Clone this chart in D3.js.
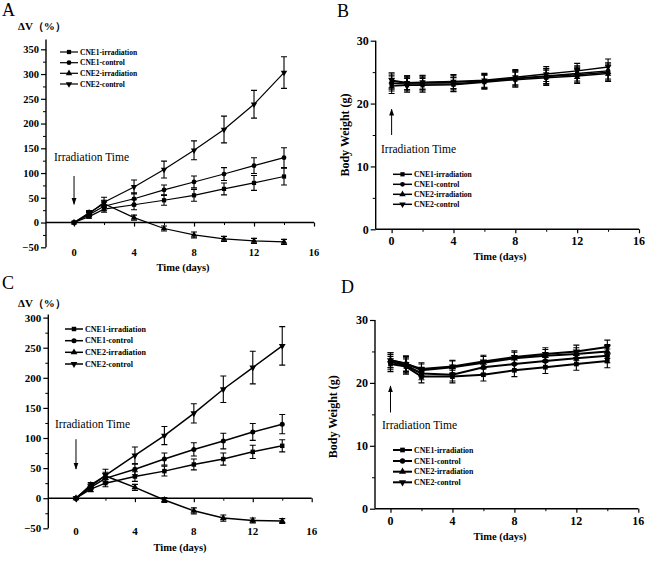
<!DOCTYPE html>
<html><head><meta charset="utf-8">
<script src="https://cdn.jsdelivr.net/npm/d3@7"></script>
<style>body{margin:0;background:#fff}svg{display:block}</style>
</head><body>
<svg id="chart" width="650" height="561"></svg>
<script>
// ---------- DATA ----------
const days = [0, 1, 2, 4, 6, 8, 10, 12, 14];
const seriesNames = ["CNE1-irradiation", "CNE1-control", "CNE2-irradiation", "CNE2-control"];
const xTickLabels = [0, 4, 8, 12, 16];
const yTicksA = [-50, 0, 50, 100, 150, 200, 250, 300, 350];
const yTicksC = [-50, 0, 50, 100, 150, 200, 250, 300];
const yTicksW = [0, 10, 20, 30];

// Panel A: tumour volume change (%)
const volA_cne1Irr  = [0, 12, 27, 36, 45, 55, 68, 80, 93];
const volA_cne1Ctrl = [0, 16, 33, 48, 66, 82, 98, 115, 131];
const volA_cne2Irr  = [0, 20, 38, 10, -12, -25, -33, -37, -39];
const volA_cne2Ctrl = [0, 18, 41, 72, 107, 146, 188, 239, 303];
const errA_cne1Irr  = [0, 3, 6, 10, 10, 12, 12, 15, 17];
const errA_cne1Ctrl = [0, 4, 8, 12, 10, 12, 13, 16, 20];
const errA_cne2Irr  = [0, 4, 7, 5, 5, 6, 5, 5, 5];
const errA_cne2Ctrl = [0, 4, 10, 14, 17, 19, 27, 28, 32];

// Panel B: body weight (g)
const wtB_cne1Irr  = [22.8, 22.9, 22.9, 23.0, 23.4, 23.8, 24.1, 24.4, 24.8];
const wtB_cne1Ctrl = [23.2, 23.1, 23.1, 23.1, 23.5, 24.0, 24.4, 24.8, 25.2];
const wtB_cne2Irr  = [23.5, 23.3, 23.3, 23.4, 23.6, 24.0, 24.3, 24.6, 25.0];
const wtB_cne2Ctrl = [23.7, 23.3, 23.4, 23.5, 23.7, 24.2, 24.7, 25.2, 25.8];
const errB = [1.2, 1.1, 1.1, 1.1, 1.1, 1.2, 1.2, 1.2, 1.3];

// Panel C: tumour volume change (%)
const volC_cne1Irr  = [0, 15, 25, 36, 45, 56, 65, 77, 87];
const volC_cne1Ctrl = [0, 18, 33, 48, 65, 81, 95, 110, 123];
const volC_cne2Irr  = [0, 22, 37, 18, -3, -21, -33, -37, -38];
const volC_cne2Ctrl = [0, 20, 38, 71, 104, 141, 181, 217, 253];
const errC_cne1Irr  = [0, 4, 6, 8, 8, 9, 10, 11, 10];
const errC_cne1Ctrl = [0, 4, 8, 9, 10, 11, 13, 14, 16];
const errC_cne2Irr  = [0, 4, 6, 5, 4, 5, 5, 4, 4];
const errC_cne2Ctrl = [0, 4, 10, 14, 15, 16, 22, 27, 32];

// Panel D: body weight (g)
const wtD_cne1Irr  = [23.0, 22.6, 21.0, 21.0, 21.3, 22.0, 22.5, 23.0, 23.5];
const wtD_cne1Ctrl = [23.3, 22.8, 21.5, 21.3, 22.5, 23.0, 23.5, 23.9, 24.3];
const wtD_cne2Irr  = [23.6, 23.1, 22.0, 22.5, 23.2, 23.9, 24.3, 24.6, 25.0];
const wtD_cne2Ctrl = [23.6, 23.0, 22.2, 22.6, 23.4, 24.1, 24.6, 25.0, 25.7];
const errD = [1.2, 1.2, 1.0, 1.0, 1.0, 1.0, 1.0, 1.0, 1.1];

// ---------- DRAW ----------
const svg = d3.select("#chart");
const FONT = "'Liberation Serif','Times New Roman',serif";
const symbols = [d3.symbolSquare, d3.symbolCircle, d3.symbolTriangle, d3.symbolTriangle];
const symRot = [0, 0, 0, 180];

const panels = [
  { letter: "A", lx: 2, ly: 16, vals: [volA_cne1Irr, volA_cne1Ctrl, volA_cne2Irr, volA_cne2Ctrl],
    errs: [errA_cne1Irr, errA_cne1Ctrl, errA_cne2Irr, errA_cne2Ctrl],
    xd: [-1.87, 16], xr: [46, 314], yd: [-50, 370], yr: [247.3, 39.4], yTicks: yTicksA, minorY: 25,
    xAxisVal: 0, xLabY: 256, tickFs: 10.5, titleY: 271, titleX: 183, lw: 1.2, msz: 18,
    yTitle: "ΔV（%）", yTitleX: 18, yTitleY: 30, rot: false,
    irr: { tx: 54, ty: 161, a0: 94, a1: 37, up: false },
    leg: { x0: 60, x1: 78, tx: 80, rows: [52, 62.7, 73.3, 84], fs: 7.5 } },
  { letter: "B", lx: 337, ly: 17, vals: [wtB_cne1Irr, wtB_cne1Ctrl, wtB_cne2Irr, wtB_cne2Ctrl],
    errs: [errB, errB, errB, errB],
    xd: [-1.03, 16], xr: [375.7, 639], yd: [0, 30], yr: [229.3, 40.7], yTicks: yTicksW, minorY: 5,
    xAxisVal: 0, xLabY: 245, tickFs: 12, titleY: 260, titleX: 500, lw: 1.5, msz: 18,
    yTitle: "Body Weight (g)", yTitleX: 345, yTitleY: 135, rot: true,
    irr: { tx: 381, ty: 153, a0: 15, a1: 19.1, up: true },
    leg: { x0: 393, x1: 412, tx: 414, rows: [174.3, 184.3, 194.3, 204.3], fs: 7.6 } },
  { letter: "C", lx: 2, ly: 289, vals: [volC_cne1Irr, volC_cne1Ctrl, volC_cne2Irr, volC_cne2Ctrl],
    errs: [errC_cne1Irr, errC_cne1Ctrl, errC_cne2Irr, errC_cne2Ctrl],
    xd: [-1.88, 16], xr: [48.3, 311.7], yd: [-50, 305], yr: [528.3, 314.6], yTicks: yTicksC, minorY: 25,
    xAxisVal: 0, xLabY: 534.5, tickFs: 11, titleY: 550.5, titleX: 180, lw: 1.5, msz: 20,
    yTitle: "ΔV（%）", yTitleX: 18, yTitleY: 307, rot: false,
    irr: { tx: 55, ty: 427.5, a0: 98, a1: 48.5, up: false },
    leg: { x0: 65, x1: 83, tx: 85, rows: [329, 340.7, 352.3, 364], fs: 8 } },
  { letter: "D", lx: 341, ly: 293, vals: [wtD_cne1Irr, wtD_cne1Ctrl, wtD_cne2Irr, wtD_cne2Ctrl],
    errs: [errD, errD, errD, errD],
    xd: [-1.0, 16], xr: [375, 638.3], yd: [0, 30], yr: [508.7, 320], yTicks: yTicksW, minorY: 5,
    xAxisVal: 0, xLabY: 525, tickFs: 12, titleY: 540, titleX: 500, lw: 2, msz: 22,
    yTitle: "Body Weight (g)", yTitleX: 333, yTitleY: 416.7, rot: true,
    irr: { tx: 382, ty: 429, a0: 15.3, a1: 19.5, up: true },
    leg: { x0: 393, x1: 412, tx: 414, rows: [450, 461, 471.7, 482.3], fs: 7.8 } }
];

svg.append("defs").append("marker").attr("id", "ah").attr("viewBox", "0 0 10 10")
  .attr("refX", 9).attr("refY", 5).attr("markerWidth", 7).attr("markerHeight", 7)
  .attr("markerUnits", "userSpaceOnUse").attr("orient", "auto")
  .append("path").attr("d", "M0,1.5 L10,5 L0,8.5 Z").attr("fill", "#000");

panels.forEach(p => {
  const g = svg.append("g");
  const x = d3.scaleLinear().domain(p.xd).range(p.xr);
  const y = d3.scaleLinear().domain(p.yd).range(p.yr);
  const y0 = y(p.xAxisVal);

  // panel letter
  g.append("text").attr("x", p.lx).attr("y", p.ly).attr("font-family", FONT)
    .attr("font-size", 18).text(p.letter);

  // y axis
  const yMinor = d3.range(p.yd[0], p.yd[1] + 0.001, p.minorY).filter(v => !p.yTicks.includes(v));
  const yAx = g.append("g").attr("transform", `translate(${p.xr[0]},0)`)
    .call(d3.axisLeft(y).tickValues(p.yTicks).tickSize(5).tickPadding(2).tickFormat(d3.format("d")));
  yAx.select(".domain").attr("d", `M0,${p.yr[0]}V${p.yr[1]}`).attr("stroke-width", 1.4);
  yAx.selectAll(".tick line").attr("stroke-width", 1.2);
  yAx.selectAll("text").attr("font-family", FONT).attr("font-weight", "bold").attr("font-size", p.tickFs);
  g.append("g").attr("transform", `translate(${p.xr[0]},0)`)
    .call(d3.axisLeft(y).tickValues(yMinor).tickSize(3).tickFormat(""))
    .call(s => s.select(".domain").remove());

  // x axis (line at y=0, labels below plot)
  const xAx = g.append("g").attr("transform", `translate(0,${y0})`)
    .call(d3.axisBottom(x).tickValues(xTickLabels).tickSize(4).tickFormat(""));
  xAx.select(".domain").attr("d", `M${p.xr[0]},0H${p.xr[1]}`).attr("stroke-width", 1.4);
  xAx.selectAll(".tick line").attr("stroke-width", 1.2);
  g.append("g").attr("transform", `translate(0,${y0})`)
    .call(d3.axisBottom(x).tickValues([2, 6, 10, 14]).tickSize(2.5).tickFormat(""))
    .call(s => s.select(".domain").remove());
  g.selectAll(".xlab").data(xTickLabels).enter().append("text")
    .attr("x", d => x(d)).attr("y", p.xLabY).attr("text-anchor", "middle")
    .attr("font-family", FONT).attr("font-weight", "bold").attr("font-size", p.tickFs).text(d => d);

  // titles
  g.append("text").attr("x", p.titleX).attr("y", p.titleY).attr("text-anchor", "middle")
    .attr("font-family", FONT).attr("font-weight", "bold").attr("font-size", 10.5).text("Time (days)");
  if (p.rot) {
    g.append("text").attr("transform", `translate(${p.yTitleX},${p.yTitleY}) rotate(-90)`)
      .attr("text-anchor", "middle").attr("dominant-baseline", "central")
      .attr("font-family", FONT).attr("font-weight", "bold").attr("font-size", 12).text(p.yTitle);
  } else {
    g.append("text").attr("x", p.yTitleX).attr("y", p.yTitleY)
      .attr("font-family", FONT).attr("font-weight", "bold").attr("font-size", 11).text(p.yTitle);
  }

  // irradiation annotation
  g.append("text").attr("x", p.irr.tx).attr("y", p.irr.ty).attr("font-family", FONT)
    .attr("font-size", 11.5).text("Irradiation Time");
  g.append("line").attr("x1", x(0)).attr("x2", x(0)).attr("y1", y(p.irr.a0)).attr("y2", y(p.irr.a1))
    .attr("stroke", "#000").attr("stroke-width", 1).attr("marker-end", "url(#ah)");

  // series
  const line = d3.line().x((d, i) => x(days[i])).y(d => y(d));
  p.vals.forEach((vals, si) => {
    const errs = p.errs[si];
    const sg = g.append("g");
    // error bars
    vals.forEach((v, i) => {
      if (!errs[i]) return;
      const cx = x(days[i]), t = y(v + errs[i]), b = y(v - errs[i]);
      sg.append("path").attr("d", `M${cx},${t}V${b}M${cx - 3},${t}H${cx + 3}M${cx - 3},${b}H${cx + 3}`)
        .attr("stroke", "#000").attr("stroke-width", 1.1).attr("fill", "none");
    });
    sg.append("path").datum(vals).attr("d", line).attr("fill", "none")
      .attr("stroke", "#000").attr("stroke-width", p.lw);
    sg.selectAll("path.m").data(vals).enter().append("path").attr("class", "m")
      .attr("d", d3.symbol().type(symbols[si]).size(p.msz))
      .attr("transform", (d, i) => `translate(${x(days[i])},${y(d)}) rotate(${symRot[si]})`)
      .attr("fill", "#000");
  });

  // legend
  seriesNames.forEach((name, si) => {
    const ry = p.leg.rows[si];
    g.append("line").attr("x1", p.leg.x0).attr("x2", p.leg.x1).attr("y1", ry).attr("y2", ry)
      .attr("stroke", "#000").attr("stroke-width", p.lw);
    g.append("path").attr("d", d3.symbol().type(symbols[si]).size(p.msz))
      .attr("transform", `translate(${(p.leg.x0 + p.leg.x1) / 2},${ry}) rotate(${symRot[si]})`).attr("fill", "#000");
    g.append("text").attr("x", p.leg.tx).attr("y", ry).attr("dominant-baseline", "central")
      .attr("font-family", FONT).attr("font-weight", "bold").attr("font-size", p.leg.fs).text(name);
  });
});
</script>
</body></html>
